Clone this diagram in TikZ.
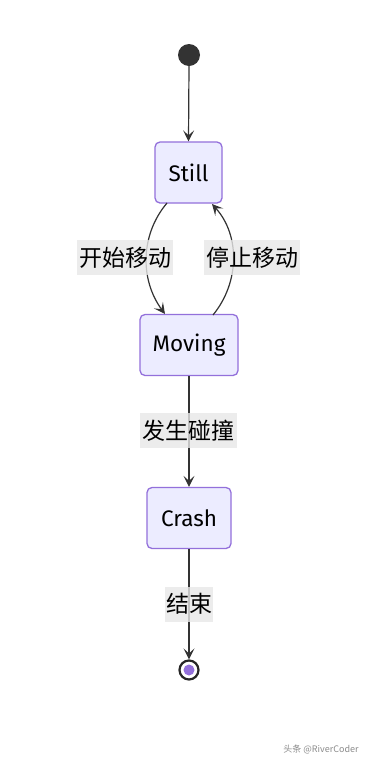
\documentclass[tikz,border=0pt]{standalone}
\usepackage{fontspec}
\setmainfont{Fira Sans}
\newfontfamily\cjk{Noto Sans CJK SC}
\usetikzlibrary{arrows.meta,positioning}
\definecolor{stbg}{HTML}{ECECFF}
\definecolor{stline}{HTML}{9370DB}
\definecolor{edge}{HTML}{333333}
\definecolor{lblbg}{HTML}{E8E8E8}
\begin{document}
\begin{tikzpicture}[x=1pt,y=-1pt,>={Stealth[length=11pt,width=11pt,inset=5pt]},
  state/.style={draw=stline,line width=1.3pt,fill=stbg,rounded corners=5pt,minimum height=61pt,inner sep=0pt,font=\fontsize{22.5}{26}\selectfont},
  tlabel/.style={fill=lblbg,fill opacity=0.8,text opacity=1,inner sep=0pt,minimum height=35pt,text width=#1,align=center,font=\cjk\fontsize{23}{26}\selectfont},
  trans/.style={draw=edge,line width=1.2pt,->}]
\useasboundingbox[fill=white] (0,0) rectangle (373,764);
\fill[edge] (189,55) circle (11) coordinate (start);
\node[state,minimum width=67pt] (still) at (188.5,172.5) {Still};
\node[state,minimum width=98pt] (moving) at (189,345) {Moving};
\node[state,minimum width=84pt] (crash) at (189,518) {Crash};
\node[circle,draw=black!85,line width=2.2pt,fill=white,minimum size=19pt,inner sep=0pt] (end) at (189,670) {};
\fill[stline] (end.center) circle (5.5);
% transitions
\draw[trans] (189,66) -- (still.north);
\draw[trans] (167,203) .. controls (140,235) and (140,280) .. (165,314);
\draw[trans] (213,315) .. controls (240,282) and (240,235) .. (212,204);
\draw[trans] (moving.south) -- (crash.north);
\draw[trans] (crash.south) -- (end.north);
% labels
\node[tlabel=96pt] (l1) at (125,257.5) {开始移动};
\node[tlabel=96pt] (l2) at (252,257.5) {停止移动};
\node[tlabel=97pt] (l3) at (188.5,430.5) {发生碰撞};
\node[tlabel=48pt] (l4) at (189,604) {结束};
\node[text=black!45,font=\cjk\fontsize{9}{10}\selectfont] (wm) at (321,749) {头条 @RiverCoder};
\end{tikzpicture}
\end{document}
